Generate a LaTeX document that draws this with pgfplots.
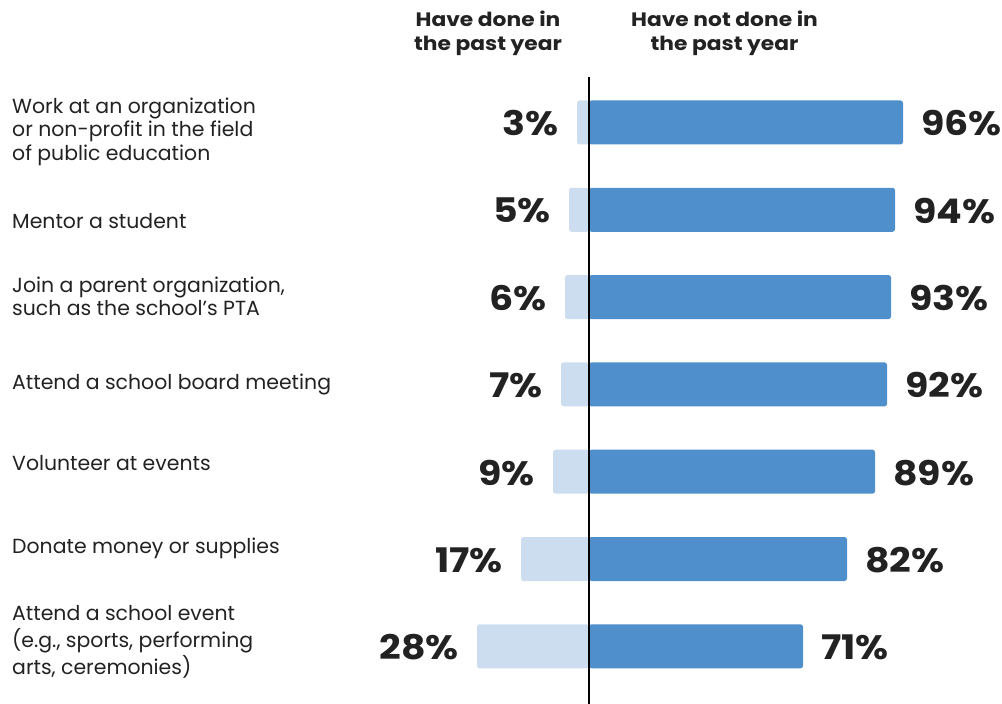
\documentclass[border=0pt]{standalone}
\usepackage{fontspec}
\usepackage{pgfplots}
\usepackage{pgfplotstable}
\pgfplotsset{compat=1.18}
\newfontfamily\labfont{Poppins}
\newfontfamily\popfont{Poppins}[FakeStretch=1.12]
\definecolor{darkb}{HTML}{4F8FCC}
\definecolor{lightb}{HTML}{CBDDEF}
\definecolor{txt}{HTML}{222222}
\pgfplotstableread{
y v
0 3
1 5
2 6
3 7
4 9
5 17
6 28
}\leftdata
\pgfplotstableread{
y v
0 96
1 94
2 93
3 92
4 89
5 82
6 71
}\rightdata
\begin{document}
\begin{tikzpicture}
\useasboundingbox (0,0) rectangle (1002bp,-704bp);
\begin{axis}[
  at={(429bp,-77bp)}, anchor=north west,
  scale only axis, width=560bp, height=627bp,
  xmin=-40, xmax=100,
  ymin=-0.521, ymax=6.661, y dir=reverse,
  axis line style={draw=none},
  tick style={draw=none},
  xtick=\empty,
  ytick={0.1117,1.1575,2.0246,3.0074,3.9295,4.8803,5.9628},
  yticklabels={{\strut Work at an organization\\\strut or non-profit in the field\\\strut of public education},
    {\strut Mentor a student},
    {\strut Join a parent organization,\\\strut such as the school’s PTA},
    {\strut Attend a school board meeting},
    {\strut Volunteer at events},
    {\strut Donate money or supplies},
    {\strut Attend a school event\\\strut (e.g., sports, performing\\\strut arts, ceremonies)}},
  yticklabel style={anchor=west, xshift=-417bp, inner sep=0pt, align=left,
    font=\labfont\fontsize{20.5}{23.5}\selectfont, text=txt},
  /pgf/number format/assume math mode=true,
  clip=false,
]
\addplot[xbar, bar width=44bp, bar shift=0pt, fill=lightb, draw=none, rounded corners=2.5bp,
  point meta=explicit,
  nodes near coords={\pgfmathprintnumber{\pgfplotspointmeta}\%},
  every node near coord/.style={anchor=east, xshift=-18bp, yshift=-1bp, inner sep=0pt,
    font=\popfont\bfseries\fontsize{34}{36}\selectfont, text=txt}]
  table[x expr=-\thisrow{v}, y=y, meta=v] {\leftdata};
\addplot[xbar, bar width=44bp, bar shift=0pt, fill=darkb, draw=none, rounded corners=2.5bp,
  point meta=explicit,
  nodes near coords={\pgfmathprintnumber{\pgfplotspointmeta}\%},
  every node near coord/.style={anchor=west, xshift=18bp, yshift=-1bp, inner sep=0pt,
    font=\popfont\bfseries\fontsize{34}{36}\selectfont, text=txt}]
  table[x expr=\thisrow{v}-17.5, y=y, meta=v] {\rightdata};
\draw[black, line width=2bp] (axis cs:0,-0.521) -- (axis cs:0,6.661);
\end{axis}
\begin{scope}[every node/.style={anchor=north, align=center, inner sep=0pt,
    font=\popfont\bfseries\fontsize{19.5}{23.5}\selectfont, text=txt}]
\node at (488bp,-10.3bp) {\strut Have done in\\\strut the past year};
\node at (724.5bp,-10.3bp) {\strut Have not done in\\\strut the past year};
\end{scope}
\end{tikzpicture}
\end{document}
